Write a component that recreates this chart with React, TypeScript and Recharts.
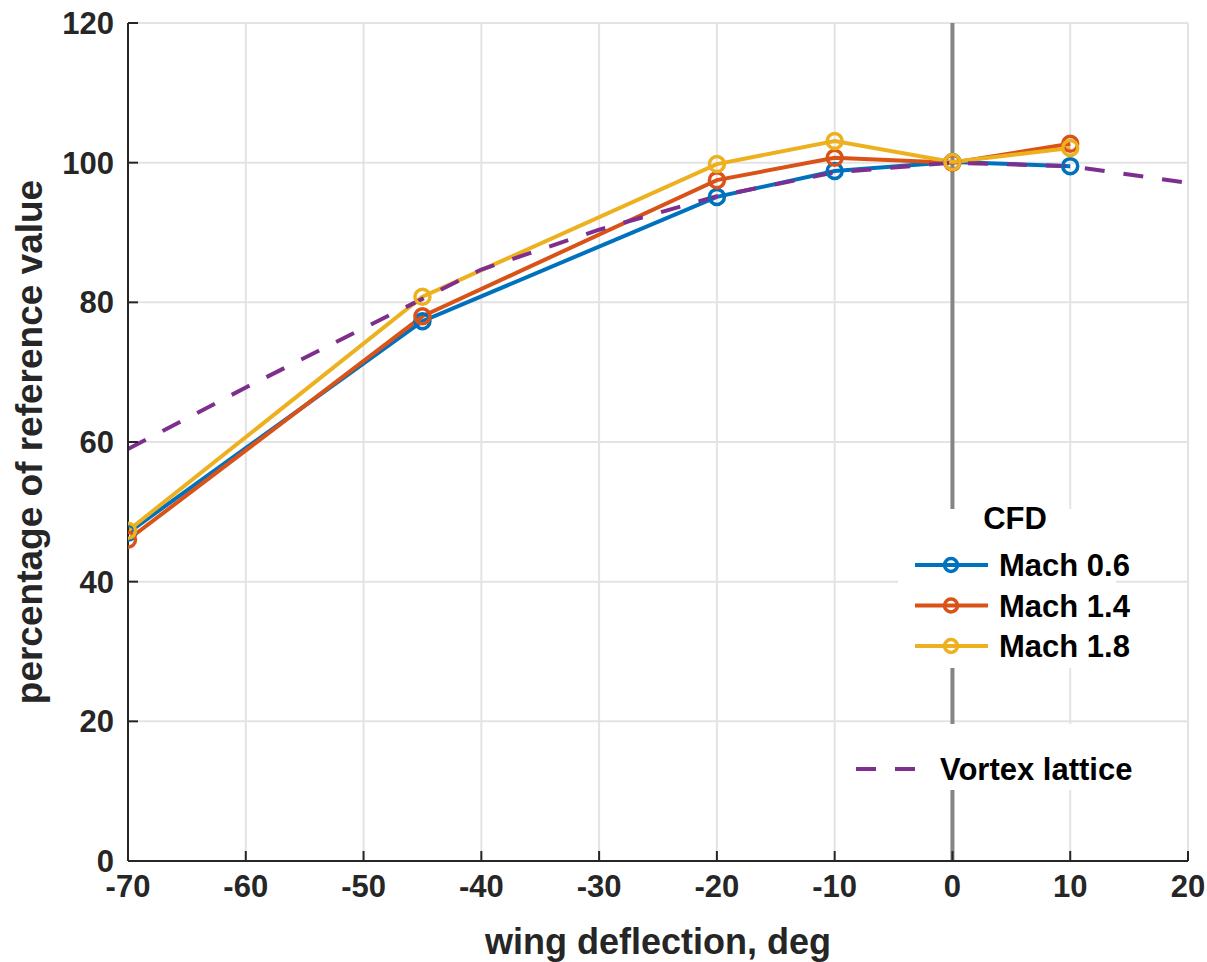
import React from "react";
import {
  LineChart,
  Line,
  XAxis,
  YAxis,
  CartesianGrid,
  ReferenceLine,
  Legend,
} from "recharts";

const deflections = [-70, -45, -20, -10, 0, 10];
const mach06 = [47.0, 77.3, 95.1, 98.8, 100.1, 99.5];
const mach14 = [46.0, 78.0, 97.5, 100.7, 100.0, 102.7];
const mach18 = [47.3, 80.8, 99.8, 103.1, 100.1, 102.1];

const vortexDeflections = [-70, -60, -50, -45, -40, -30, -20, -10, 0, 10, 20];
const vortexValues = [59.0, 67.8, 76.3, 80.5, 84.7, 90.4, 95.2, 98.6, 100.0, 99.5, 97.1];

const xTicks = [-70, -60, -50, -40, -30, -20, -10, 0, 10, 20];
const yTicks = [0, 20, 40, 60, 80, 100, 120];

const cfdData = deflections.map((x, i) => ({
  x,
  m06: mach06[i],
  m14: mach14[i],
  m18: mach18[i],
}));
const vortexData = vortexDeflections.map((x, i) => ({ x, vortex: vortexValues[i] }));

const FONT = "'Liberation Sans', Arial, Helvetica, sans-serif";
const AXIS = "#262626";

const BottomTick = ({ x, y, payload }: any) => (
  <g>
    <line x1={x} x2={x} y1={y} y2={y - 10} stroke={AXIS} strokeWidth={2} />
    <text x={x} y={y + 36} textAnchor="middle" fontFamily={FONT} fontWeight="bold" fontSize={31} fill={AXIS}>
      {payload.value}
    </text>
  </g>
);

const TopTick = ({ x, y }: any) => (
  <line x1={x} x2={x} y1={y} y2={y + 10} stroke={AXIS} strokeWidth={2} />
);

const LeftTick = ({ x, y, payload }: any) => (
  <g>
    <line x1={x} x2={x + 10} y1={y} y2={y} stroke={AXIS} strokeWidth={2} />
    <text x={x - 14} y={y + 11} textAnchor="end" fontFamily={FONT} fontWeight="bold" fontSize={31} fill={AXIS}>
      {payload.value}
    </text>
  </g>
);

const RightTick = ({ x, y }: any) => (
  <line x1={x} x2={x - 10} y1={y} y2={y} stroke={AXIS} strokeWidth={2} />
);

const Marker = (color: string) => (props: any) => {
  const { cx, cy } = props;
  if (cx == null || cy == null) return <g />;
  return <circle cx={cx} cy={cy} r={7.5} fill="none" stroke={color} strokeWidth={3.5} />;
};

const renderLegend = ({ payload }: any) => {
  const items = (payload || []) as any[];
  const cfd = items.filter((p) => p.dataKey !== "vortex");
  const vortex = items.find((p) => p.dataKey === "vortex");
  return (
    <svg width={1207} height={962} style={{ position: "absolute", left: 0, top: 0, pointerEvents: "none" }}>
      <rect x={898} y={509} width={218} height={159} fill="#fff" />
      <text x={1015} y={529} textAnchor="middle" fontFamily={FONT} fontWeight="bold" fontSize={31} fill="#000">
        CFD
      </text>
      {cfd.map((item, i) => {
        const cy = 565 + i * 40.5;
        return (
          <g key={item.value}>
            <line x1={915} x2={988} y1={cy} y2={cy} stroke={item.color} strokeWidth={4} />
            <circle cx={951} cy={cy} r={6.5} fill="none" stroke={item.color} strokeWidth={3.5} />
            <text x={999} y={cy + 11} fontFamily={FONT} fontWeight="bold" fontSize={31} fill="#000">
              {item.value}
            </text>
          </g>
        );
      })}
      {vortex && (
        <g>
          <rect x={840} y={724} width={300} height={66} fill="#fff" />
          <line x1={856} x2={916} y1={769} y2={769} stroke={vortex.color} strokeWidth={4} strokeDasharray="20 19" />
          <text x={940} y={780} fontFamily={FONT} fontWeight="bold" fontSize={31} fill="#000">
            {vortex.value}
          </text>
        </g>
      )}
    </svg>
  );
};

export default function App() {
  return (
    <div style={{ position: "absolute", left: 0, top: 0, width: 1207, height: 962, background: "#fff" }}>
      <LineChart width={1207} height={962} margin={{ top: 23, right: 19, bottom: 41, left: 68 }}>
        <CartesianGrid stroke="#e3e3e3" strokeWidth={2} vertical horizontal />
        <XAxis
          dataKey="x"
          type="number"
          domain={[-70, 20]}
          ticks={xTicks}
          allowDataOverflow
          height={60}
          tickSize={0}
          tickMargin={0}
          tick={<BottomTick />}
          axisLine={{ stroke: AXIS, strokeWidth: 2 }}
          tickLine={false}
          label={{
            value: "wing deflection, deg",
            position: "insideBottom",
            offset: -33,
            style: { fontFamily: FONT, fontWeight: "bold", fontSize: 36, fill: AXIS },
          }}
        />
        <XAxis
          xAxisId="top"
          orientation="top"
          dataKey="x"
          type="number"
          domain={[-70, 20]}
          ticks={xTicks}
          allowDataOverflow
          height={0}
          tickSize={0}
          tickMargin={0}
          tick={<TopTick />}
          axisLine={{ stroke: AXIS, strokeWidth: 2 }}
          tickLine={false}
        />
        <YAxis
          type="number"
          domain={[0, 120]}
          ticks={yTicks}
          allowDataOverflow
          width={60}
          tickSize={0}
          tickMargin={0}
          tick={<LeftTick />}
          axisLine={{ stroke: AXIS, strokeWidth: 2 }}
          tickLine={false}
          label={{
            value: "percentage of reference value",
            angle: -90,
            position: "insideLeft",
            offset: -39,
            style: { textAnchor: "middle", fontFamily: FONT, fontWeight: "bold", fontSize: 37, fill: AXIS },
          }}
        />
        <YAxis
          yAxisId="right"
          orientation="right"
          type="number"
          domain={[0, 120]}
          ticks={yTicks}
          allowDataOverflow
          width={0}
          tickSize={0}
          tickMargin={0}
          tick={<RightTick />}
          axisLine={{ stroke: AXIS, strokeWidth: 2 }}
          tickLine={false}
        />
        <ReferenceLine x={0} stroke="#858585" strokeWidth={4} />
        <Line
          data={cfdData}
          dataKey="m06"
          name="Mach 0.6"
          stroke="#0072BD"
          strokeWidth={4}
          dot={Marker("#0072BD")}
          activeDot={false}
          isAnimationActive={false}
        />
        <Line
          data={cfdData}
          dataKey="m14"
          name="Mach 1.4"
          stroke="#D95319"
          strokeWidth={4}
          dot={Marker("#D95319")}
          activeDot={false}
          isAnimationActive={false}
        />
        <Line
          data={cfdData}
          dataKey="m18"
          name="Mach 1.8"
          stroke="#EDB120"
          strokeWidth={4}
          dot={Marker("#EDB120")}
          activeDot={false}
          isAnimationActive={false}
        />
        <Line
          data={vortexData}
          dataKey="vortex"
          name="Vortex lattice"
          stroke="#7E2F8E"
          strokeWidth={4}
          strokeDasharray="20 19"
          dot={false}
          activeDot={false}
          isAnimationActive={false}
        />
        <Legend
          layout="horizontal"
          verticalAlign="middle"
          align="center"
          content={renderLegend}
          wrapperStyle={{ position: "absolute", left: 0, top: 0, width: 1207, height: 962, pointerEvents: "none" }}
        />
      </LineChart>
    </div>
  );
}
